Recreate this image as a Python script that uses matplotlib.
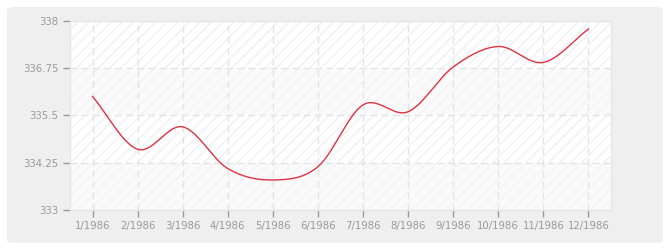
import numpy as np
import matplotlib
matplotlib.use("Agg")
import matplotlib.pyplot as plt
from matplotlib.patches import FancyBboxPatch

# valeurs
months = list(range(1, 13))
labels = ["%d/1986" % m for m in months]
values = [336.0, 334.61, 335.2, 334.1, 333.8, 334.15,
          335.78, 335.6, 336.78, 337.32, 336.9, 337.78]
yticks = [333, 334.25, 335.5, 336.75, 338]


# courbe lissée (catmull-rom) entre les points
def smooth(x, y, n=30):
    x = np.asarray(x, float)
    y = np.asarray(y, float)
    m = np.zeros_like(y)
    m[1:-1] = (y[2:] - y[:-2]) / (x[2:] - x[:-2])
    m[0] = y[1] - y[0]
    m[-1] = y[-1] - y[-2]
    xs, ys = [], []
    for i in range(len(x) - 1):
        h = x[i + 1] - x[i]
        t = np.linspace(0, 1, n, endpoint=False)
        h00 = 2 * t**3 - 3 * t**2 + 1
        h10 = t**3 - 2 * t**2 + t
        h01 = -2 * t**3 + 3 * t**2
        h11 = t**3 - t**2
        xs.append(x[i] + t * h)
        ys.append(h00 * y[i] + h10 * h * m[i] + h01 * y[i + 1] + h11 * h * m[i + 1])
    xs.append([x[-1]])
    ys.append([y[-1]])
    return np.concatenate(xs), np.concatenate(ys)


plt.rcParams['font.family'] = ['DejaVu Sans']
plt.rcParams['hatch.linewidth'] = 1.0

fig = plt.figure(figsize=(6.7, 2.5), dpi=100, facecolor='white')

# cadre gris arrondi
frame = FancyBboxPatch((7 / 670, 7 / 250), 656 / 670, 236 / 250,
                       boxstyle="round,pad=0,rounding_size=0.012",
                       transform=fig.transFigure, facecolor='#efefef',
                       edgecolor='none', zorder=-10)
fig.add_artist(frame)

ax = fig.add_axes([70 / 670, 39.7 / 250, 541 / 670, 189.6 / 250])
ax.set_zorder(1)
ax.set_facecolor('white')

# bandes alternées hachurées
for i in range(len(yticks) - 1):
    if i % 2 == 1:
        ax.axhspan(yticks[i], yticks[i + 1], facecolor='white',
                   edgecolor='#f1f1f1', hatch='///', lw=0, zorder=0)
    else:
        ax.axhspan(yticks[i], yticks[i + 1], facecolor='#fafafa',
                   edgecolor='#f4f4f4', hatch='///', lw=0, zorder=0)

xs, ys = smooth(months, values)
ax.plot(xs, ys, color='#dd3344', lw=1.0, zorder=3)

ax.set_xlim(0.5, 12.5)
ax.set_ylim(333, 338)
ax.set_xticks(months)
ax.set_xticklabels(labels)
ax.set_yticks(yticks)
ax.set_yticklabels(["333", "334.25", "335.5", "336.75", "338"])

ax.grid(True, color='#e4e4e4', linestyle=(0, (5, 3)), lw=1.0, zorder=1)
ax.tick_params(axis='both', colors='#999999', labelcolor='#999999',
               labelsize=7.3, length=5, width=1)
ax.tick_params(axis='x', pad=3)
ax.tick_params(axis='y', pad=3.5)
for s in ax.spines.values():
    s.set_color('#e6e6e6')
    s.set_linewidth(1)

fig.savefig('out.png', dpi=100, facecolor='white')
